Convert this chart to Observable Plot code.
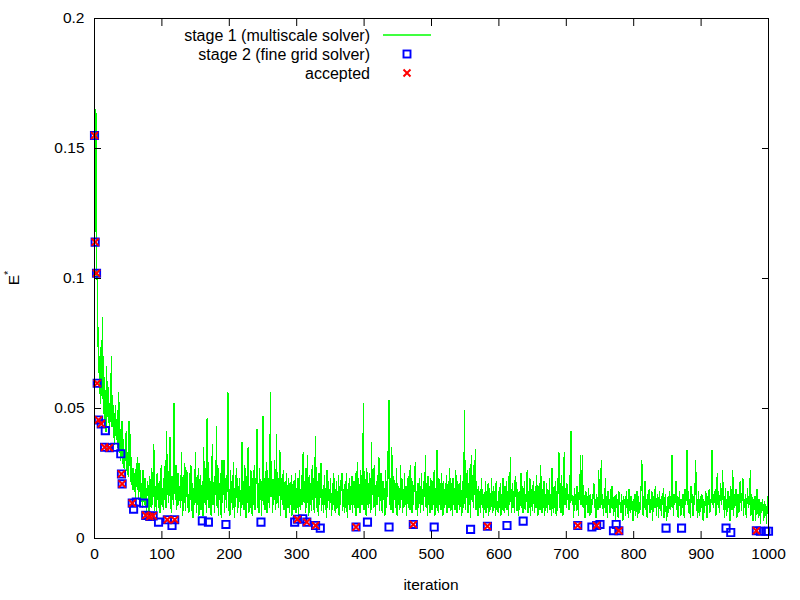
<!DOCTYPE html>
<html>
<head>
<meta charset="utf-8">
<script src="https://cdn.jsdelivr.net/npm/d3@7"></script>
<script src="https://cdn.jsdelivr.net/npm/@observablehq/plot@0.6"></script>
<style>
  html, body { margin: 0; padding: 0; background: #fff; }
  #chart { width: 800px; height: 600px; }
</style>
</head>
<body>
<div id="chart"></div>
<script>
// Stage 1 (multiscale solver) error per iteration, in units of 1e-3, iteration = index (0..1000)
const stage1Milli = [
160,118,165,106,99,81,64,70,58,52, 76,55,85,48,62,44,57,41,66,50,
47,58,40,52,45,70,43,55,39,48, 36,51,44,38,49,35,56,33,42,30,
37,45,29,38,27,34,30,41,26,33, 24,45,28,40,22,31,19,27,23,18,
25,16,29,20,31,15,29,18,26,14, 21,12,26,17,13,23,15,11,19,22,
14,10,24,16,12,27,13,18,36,11, 20,15,9,25,17,12,22,10,16,28,
13,19,11,23,15,30,12,41,17,26, 14,21,39,16,10,24,19,13,52,22,
15,28,11,18,25,13,20,16,12,33, 18,9,24,14,29,11,20,26,12,17,
10,25,15,28,11,21,8,19,13,23, 33,10,20,13,27,9,18,24,11,16,
22,9,35,14,27,19,10,46,15,29, 12,23,17,9,26,36,13,21,10,24,
17,43,12,28,9,21,15,25,8,30, 14,20,30,10,23,16,12,27,56,11,
19,9,26,14,22,11,29,13,8,24, 16,27,10,20,12,23,15,9,25,37,
13,22,11,28,17,8,24,14,35,10, 20,12,26,16,9,23,13,28,11,19,
24,42,12,21,10,27,15,22,9,25, 47,13,23,11,19,29,10,26,14,20,
12,56,16,25,10,22,13,30,17,11, 40,14,24,12,20,34,9,23,16,13,
26,11,19,22,8,25,14,12,23,10, 21,13,24,9,18,22,11,15,25,10,
19,12,23,8,26,16,11,24,13,32, 33,14,22,10,27,12,32,17,9,24,
13,21,11,28,15,23,10,26,39,12, 22,16,9,25,13,20,29,11,19,14,
10,24,13,19,8,26,12,22,16,11, 23,15,9,21,13,25,11,19,10,22,
16,12,24,9,20,13,23,25,11,19, 14,10,22,12,25,8,19,13,23,11,
20,13,24,10,18,22,12,25,9,19, 29,12,23,15,10,26,17,13,22,52,
11,24,16,9,27,13,21,12,25,15, 10,37,17,23,12,28,14,9,22,13,
24,16,31,11,20,25,13,10,22,15, 19,9,26,12,22,16,41,53,13,23,
11,35,19,10,24,15,21,12,27,9, 21,13,18,11,28,15,23,10,19,12,
25,13,20,9,18,23,12,26,11,28, 15,10,22,13,19,24,29,11,18,9,
21,12,23,14,10,25,13,19,11,22, 16,32,12,21,9,24,13,20,10,23,
15,11,22,13,26,9,19,12,34,16, 10,23,13,21,11,25,15,9,22,12,
19,13,24,10,18,22,12,27,11,21, 15,9,23,13,19,11,26,16,10,22,
13,21,11,24,15,9,22,12,19,49, 11,23,16,26,10,21,13,27,8,32,
15,24,12,28,17,34,11,22,13,9, 20,12,18,10,23,13,19,8,17,11,
22,10,18,12,21,9,19,13,11,23, 15,10,20,12,18,9,22,11,14,10,
18,12,21,9,17,11,23,13,10,20, 12,22,11,18,9,24,13,31,15,10,
21,12,18,10,22,24,11,19,13,9, 18,11,23,25,12,20,10,17,22,11,
14,21,26,10,18,12,23,9,19,13, 11,22,15,10,20,12,24,14,9,18,
21,11,28,13,10,19,12,22,9,17, 12,21,10,18,13,23,11,17,9,27,
13,10,20,12,22,9,18,11,24,33, 12,21,10,24,15,9,22,33,13,19,
12,21,15,17,11,24,14,41,18,13, 16,8,19,13,17,11,20,14,9,18,
15,32,13,19,32,12,17,14,8,18, 13,16,10,19,14,9,17,10,15,13,
18,21,12,15,8,17,14,11,26,16, 12,19,30,13,17,9,15,12,23,10,
16,8,18,13,15,10,19,12,20,14, 9,16,13,7,17,12,15,8,18,13,
14,10,17,12,7,16,13,15,9,18, 12,15,8,19,13,10,16,11,14,7,
15,11,17,9,14,18,8,16,13,10, 17,19,30,14,9,16,12,22,11,15,
8,17,13,19,10,15,11,18,7,14, 16,12,20,13,9,17,14,8,18,12,
15,9,16,13,19,8,14,17,11,7, 13,16,10,18,14,11,20,32,15,9,
17,13,19,22,11,16,8,14,18,12, 9,15,12,17,14,8,19,13,16,34,
13,18,10,15,8,20,14,17,9,16, 13,19,30,11,15,8,18,14,9,16,
12,17,13,7,15,10,14,18,11,8, 16,13,19,10,15,14,34,20,12,17,
14,19,9,16,25,13,18,10,15,21, 13,17,26,11,16,8,19,14,9,15,
18,12,16,7,20,14,11,26,9,17, 12,15,19,8,14,17,10,13,22,16,
11,18,23,9,15,13,17,8,14,19, 12,16,13,26,9,17,14,7,15,11,
16,7,14,19,12,8,15,13,6,14, 10,15,12,7,14,9,13,6,12,16,
16
];
const stage1 = stage1Milli.map((v, i) => ({iteration: i, E: v / 1000}));

// Stage 2 (fine grid solver) evaluations: iteration and E*
const stage2Iter = [0,1,3,4,6,10,15,16,22,30,39,40,41,56,58,62,73,76,82,87,95,108,115,119,160,169,195,247,297,301,309,315,328,335,388,405,437,473,504,558,583,612,636,717,738,745,750,770,774,778,848,871,937,944,982,988,996,1000];
const stage2E    = [0.155,0.114,0.102,0.0597,0.0456,0.0441,0.0351,0.0415,0.0349,0.0351,0.0326,0.0248,0.021,0.0136,0.0113,0.014,0.0136,0.0089,0.0085,0.0087,0.0063,0.0072,0.005,0.0072,0.0068,0.0063,0.0054,0.0063,0.0063,0.0074,0.0076,0.0063,0.005,0.004,0.0044,0.0063,0.0044,0.0054,0.0044,0.0035,0.0047,0.005,0.0067,0.005,0.0044,0.005,0.0054,0.003,0.0054,0.003,0.004,0.004,0.004,0.0023,0.003,0.0028,0.0028,0.0028];
// Accepted proposals (subset of stage 2)
const acceptedIter = [0,1,3,4,6,10,15,22,40,41,56,76,82,87,108,119,301,315,328,388,473,583,717,745,778,982];

const stage2 = stage2Iter.map((it, i) => ({iteration: it, E: stage2E[i]}));
const accepted = acceptedIter.map(it => stage2.find(d => d.iteration === it));

const xTicks = [0,100,200,300,400,500,600,700,800,900,1000];
const yTicks = [0,0.05,0.1,0.15,0.2];
const yTickLabels = ["0","0.05","0.1","0.15","0.2"];

const legendItems = ["stage 1 (multiscale solver)", "stage 2 (fine grid solver)", "accepted"];

const FONT = "'Liberation Sans', Arial, sans-serif";

const plot = Plot.plot({
  width: 800,
  height: 600,
  marginLeft: 94,
  marginRight: 32,
  marginTop: 18,
  marginBottom: 62,
  style: {fontFamily: FONT, fontSize: "15.5px", background: "white", color: "black", overflow: "visible"},
  x: {domain: [0, 1000]},
  y: {domain: [0, 0.2]},
  marks: [
    Plot.line(stage1, {x: "iteration", y: "E", stroke: "#00ff00", strokeWidth: 1.3, shapeRendering: "crispEdges"}),
    Plot.dot(stage2, {x: "iteration", y: "E", symbol: "square2", r: 4.6, stroke: "#0000ff", fill: "none", strokeWidth: 1.9}),
    Plot.dot(accepted, {x: "iteration", y: "E", symbol: "times", r: 3.3, stroke: "#ff0000", strokeWidth: 2}),
    Plot.frame({stroke: "black", strokeWidth: 1}),
    Plot.axisX({ticks: xTicks, tickSize: 0, tickPadding: 9, label: null, tickFormat: d => String(d)}),
    Plot.axisX({ticks: xTicks, tickSize: -7, tickFormat: () => "", label: null}),
    Plot.axisX({anchor: "top", ticks: xTicks, tickSize: -7, tickFormat: () => "", label: null}),
    Plot.axisY({ticks: yTicks, tickSize: 0, tickPadding: 10, label: null, tickFormat: d => yTickLabels[yTicks.indexOf(d)]}),
    Plot.axisY({ticks: yTicks, tickSize: -7, tickFormat: () => "", label: null}),
    Plot.axisY({anchor: "right", ticks: yTicks, tickSize: -7, tickFormat: () => "", label: null})
  ]
});

document.getElementById("chart").appendChild(plot);

const svg = d3.select(plot);
const xs = plot.scale("x");
const ys = plot.scale("y");

// Axis titles
svg.append("text")
  .attr("x", (xs.apply(0) + xs.apply(1000)) / 2)
  .attr("y", 590)
  .attr("text-anchor", "middle")
  .attr("font-family", FONT).attr("font-size", 15.5).attr("fill", "black")
  .text("iteration");

const yl = svg.append("text")
  .attr("transform", `translate(19,${(ys.apply(0) + ys.apply(0.2)) / 2}) rotate(-90)`)
  .attr("text-anchor", "middle")
  .attr("font-family", FONT).attr("font-size", 15.5).attr("fill", "black");
yl.append("tspan").text("E");
yl.append("tspan").attr("dy", -7).attr("font-size", 11).text("*");

// Legend (inside plot, top)
const lg = svg.append("g").attr("font-family", FONT).attr("font-size", 16).attr("fill", "black");
const rowY = [35, 54, 73];
legendItems.forEach((t, i) => {
  lg.append("text").attr("x", 370).attr("y", rowY[i]).attr("dy", "0.35em").attr("text-anchor", "end").text(t);
});
lg.append("line").attr("x1", 383).attr("x2", 431).attr("y1", rowY[0]).attr("y2", rowY[0]).attr("stroke", "#00ff00").attr("stroke-width", 1.5);
lg.append("rect").attr("x", 403.5).attr("y", rowY[1] - 3.5).attr("width", 7).attr("height", 7).attr("fill", "none").attr("stroke", "#0000ff").attr("stroke-width", 1.9);
lg.append("path").attr("d", `M${403.5},${rowY[2]-3.5}L${410.5},${rowY[2]+3.5}M${403.5},${rowY[2]+3.5}L${410.5},${rowY[2]-3.5}`).attr("stroke", "#ff0000").attr("stroke-width", 2);
</script>
</body>
</html>
